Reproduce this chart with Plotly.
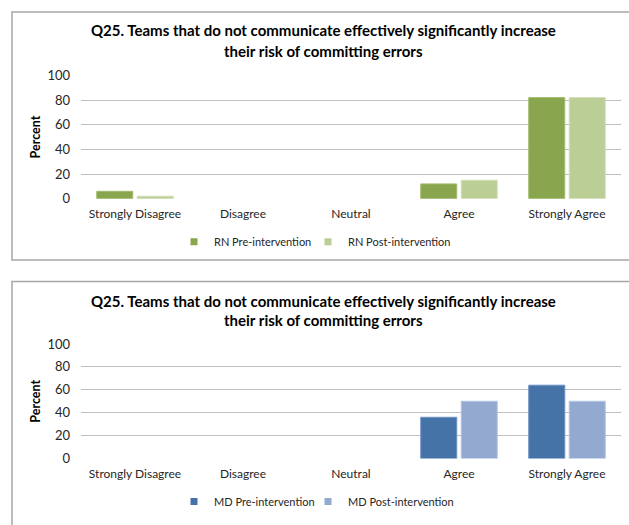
import plotly.graph_objects as go

categories = ["Strongly Disagree", "Disagree", "Neutral", "Agree", "Strongly Agree"]
rn_pre = [6, 0, 0, 12, 82]
rn_post = [2, 0, 0, 15, 82]
md_pre = [0, 0, 0, 36, 64]
md_post = [0, 0, 0, 50, 50]
y_ticks = [0, 20, 40, 60, 80, 100]
title_line1 = "Q25. Teams that do not communicate effectively significantly increase"
title_line2 = "their risk of committing errors"

W, H = 629, 525
FONT = "Lato, 'Open Sans', sans-serif"
TXT = "#262626"

def px_x(p):
    return p / W

def px_y(p):
    return 1 - p / H

fig = go.Figure()

series = [
    (rn_pre, "RN Pre-intervention", "#89A54E", "#A3BC6E", "x", "y", "legend", 174, 241),
    (rn_post, "RN Post-intervention", "#BACE96", "#D2E0B8", "x", "y", "legend2", 308, 241),
    (md_pre, "MD Pre-intervention", "#4572A7", "#6D93C4", "x2", "y2", "legend3", 174, 509),
    (md_post, "MD Post-intervention", "#93A9CF", "#B4C5E2", "x2", "y2", "legend4", 308, 509),
]
legends = {}
for vals, name, col, edge, xa, ya, lg, lx, ly in series:
    widths = [1 if v > 0 else 0 for v in vals]
    fig.add_trace(go.Bar(x=categories, y=vals, name=name,
                         marker=dict(color=col, line=dict(color=edge, width=widths)),
                         xaxis=xa, yaxis=ya, showlegend=False, hoverinfo="skip"))
    fig.add_trace(go.Scatter(x=[None], y=[None], mode="markers", name=name,
                             marker=dict(symbol="square", size=7, color=col),
                             xaxis=xa, yaxis=ya, legend=lg, showlegend=True))
    legends[lg] = dict(orientation="h", xanchor="left", yanchor="middle", x=px_x(lx), y=px_y(ly),
                       font=dict(family=FONT, size=11, color=TXT), bgcolor="rgba(0,0,0,0)", itemwidth=30)

xd = [px_x(81), px_x(621)]
common_x = dict(type="category", showgrid=False, zeroline=False, showline=False, ticks="",
                tickfont=dict(family=FONT, size=12, color=TXT), domain=xd, fixedrange=True,
                ticklabelstandoff=6)
common_y = dict(range=[0, 100], tickvals=y_ticks, showgrid=True, gridcolor="#BFBFBF", gridwidth=1,
                zeroline=False, showline=False, ticks="", tickfont=dict(family=FONT, size=13, color=TXT),
                ticklabelstandoff=10, fixedrange=True,
                title=dict(text="<b>Percent</b>", font=dict(family=FONT, size=12.5, color="#000"), standoff=3))

ann = []
for y1, y2 in [(23, 44), (302, 322)]:
    for txt, yy in [(title_line1, y1), (title_line2, y2)]:
        ann.append(dict(text="<b>" + txt + "</b>", xref="paper", yref="paper", x=px_x(323), y=px_y(yy),
                        xanchor="center", yanchor="middle", showarrow=False, align="center",
                        font=dict(family=FONT, size=15, color="#000")))

fig.update_layout(
    width=W, height=H, autosize=False,
    margin=dict(l=0, r=0, t=0, b=0),
    paper_bgcolor="white", plot_bgcolor="white",
    barmode="group", bargap=0.25, bargroupgap=0.11,
    xaxis=dict(common_x, anchor="y"),
    yaxis=dict(common_y, domain=[px_y(196.7), px_y(69.5)], anchor="x"),
    xaxis2=dict(common_x, anchor="y2"),
    yaxis2=dict(common_y, domain=[px_y(464.7), px_y(346.5)], anchor="x2"),
    showlegend=True,
    shapes=[
        dict(type="rect", xref="paper", yref="paper", x0=px_x(12), x1=1.05, y0=px_y(260), y1=px_y(4),
             line=dict(color="#A6A6A6", width=1.5), fillcolor="rgba(0,0,0,0)", layer="below"),
        dict(type="rect", xref="paper", yref="paper", x0=px_x(12), x1=1.05, y0=-0.05, y1=px_y(282),
             line=dict(color="#A6A6A6", width=1.5), fillcolor="rgba(0,0,0,0)", layer="below"),
    ],
    annotations=ann,
    **legends,
)

fig.write_html("out.html", config={"displayModeBar": False},
               post_script="document.body.style.margin='0';document.body.style.overflow='hidden';")
